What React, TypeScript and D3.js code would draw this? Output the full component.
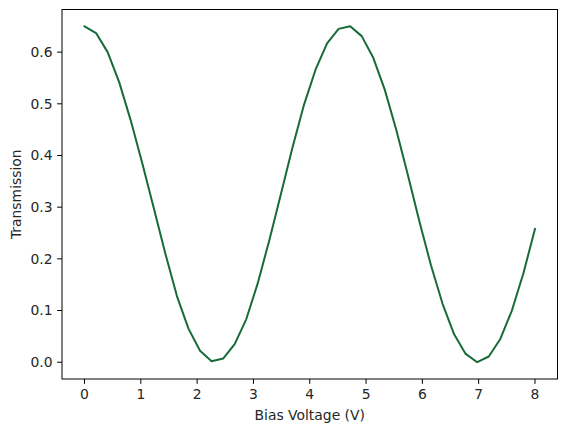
import React from 'react';
import * as d3 from 'd3';

// bias voltage samples (40 points between 0 and 8 V)
const voltages: number[] = d3.range(40).map((i) => (i * 8) / 39);

// transmission, one per voltage sample
const transmission: number[] = [
  0.650, 0.637, 0.600, 0.542, 0.468, 0.385, 0.298, 0.210, 0.128, 0.065,
  0.022, 0.002, 0.007, 0.035, 0.083, 0.153, 0.236, 0.325, 0.415, 0.498,
  0.566, 0.617, 0.645, 0.650, 0.631, 0.589, 0.527, 0.449, 0.362, 0.272,
  0.187, 0.113, 0.054, 0.016, 0.000, 0.011, 0.045, 0.100, 0.172, 0.258,
];

const xTicks: number[] = [0, 1, 2, 3, 4, 5, 6, 7, 8];
const yTicks: number[] = [0.0, 0.1, 0.2, 0.3, 0.4, 0.5, 0.6];

const width = 567;
const height = 432;
const margin = { top: 9.5, right: 9.5, bottom: 53, left: 62 };
const font = 'DejaVu Sans, sans-serif';

export default function App() {
  const x = d3.scaleLinear()
    .domain([-0.4, 8.4])
    .range([margin.left, width - margin.right]);

  const y = d3.scaleLinear()
    .domain([-0.0325, 0.6825])
    .range([height - margin.bottom, margin.top]);

  const line = d3.line<number>()
    .x((d, i) => x(voltages[i]))
    .y((d) => y(d));

  const left = margin.left;
  const right = width - margin.right;
  const top = margin.top;
  const bottom = height - margin.bottom;

  return (
    <svg
      width={width}
      height={height}
      style={{ position: 'absolute', left: 0, top: 0, background: '#fff' }}
      fontFamily={font}
    >
      <rect x={0} y={0} width={width} height={height} fill="#fff" />
      <path
        d={line(transmission) || ''}
        fill="none"
        stroke="#176b37"
        strokeWidth={2}
        strokeLinejoin="round"
        strokeLinecap="square"
      />
      <rect
        x={left}
        y={top}
        width={right - left}
        height={bottom - top}
        fill="none"
        stroke="#000"
        strokeWidth={1}
      />
      {xTicks.map((t) => (
        <g key={`x${t}`} transform={`translate(${x(t)},${bottom})`}>
          <line y1={0} y2={4.9} stroke="#000" strokeWidth={1} />
          <text y={19.5} textAnchor="middle" fontSize={13.9} fill="#262626">
            {t}
          </text>
        </g>
      ))}
      {yTicks.map((t) => (
        <g key={`y${t}`} transform={`translate(${left},${y(t)})`}>
          <line x1={-4.9} x2={0} stroke="#000" strokeWidth={1} />
          <text x={-9.5} dy="0.35em" textAnchor="end" fontSize={13.9} fill="#262626">
            {d3.format('.1f')(t)}
          </text>
        </g>
      ))}
      <text
        x={(left + right) / 2}
        y={420}
        textAnchor="middle"
        fontSize={13.9}
        fill="#262626"
      >
        Bias Voltage (V)
      </text>
      <text
        transform={`translate(21,${(top + bottom) / 2}) rotate(-90)`}
        textAnchor="middle"
        fontSize={13.9}
        fill="#262626"
      >
        Transmission
      </text>
    </svg>
  );
}
